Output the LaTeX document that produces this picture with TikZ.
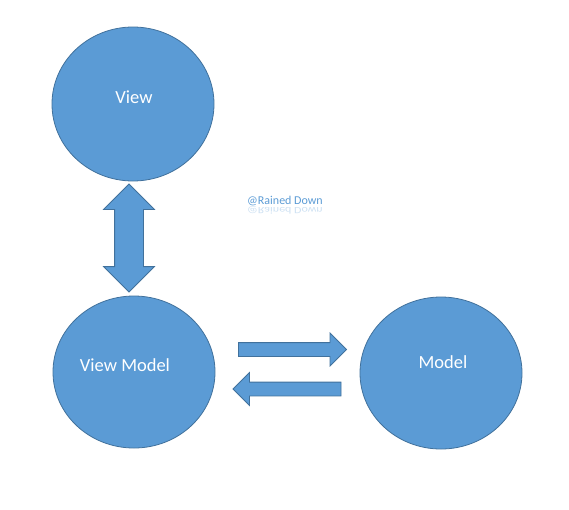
\documentclass[tikz,border=0pt]{standalone}
\usepackage{fontspec}
\setmainfont{Carlito}
\usetikzlibrary{shapes.geometric,shapes.arrows}
\definecolor{officeblue}{HTML}{5B9BD5}
\definecolor{officeline}{HTML}{41719C}
\tikzset{
    blob/.style={ellipse, draw=officeline, fill=officeblue, line width=0.8pt,
        minimum width=162pt, minimum height=152pt, inner sep=0pt},
    blobtext/.style={text=white, font=\fontsize{18.5}{20}\selectfont, inner sep=0pt},
    flatarrow/.style={single arrow, draw=officeline, fill=officeblue, line width=0.8pt,
        minimum height=108pt, inner sep=6.5pt, single arrow head extend=9.5pt},
    bothways/.style={double arrow, draw=officeline, fill=officeblue, line width=0.8pt,
        minimum height=108pt, inner sep=14pt, double arrow head extend=11pt}
}
\begin{document}
\begin{tikzpicture}[x=1pt,y=-1pt]
    \useasboundingbox (0,0) rectangle (569,509);
    \node[blob, minimum height=154pt] (view) at (133,104) {};
    \node[blob] (viewmodel) at (134,372) {};
    \node[blob] (model) at (441,373) {};
    \foreach \nm/\txt/\px/\py in {viewtxt/View/134/97, viewmodeltxt/View Model/125/365, modeltxt/Model/443/362}
    {
        \node[blobtext] (\nm) at (\px,\py) {\txt};
    }
    \node[bothways, shape border rotate=90] (updown) at (129,238) {};
    \node[flatarrow] (tomodel) at (289,349.5) {};
    \node[flatarrow, shape border rotate=180] (toviewmodel) at (290.5,389) {};
    \node[text=officeblue, font=\fontsize{12}{13}\selectfont, inner sep=0pt] (mark) at (285,201) {@Rained Down};
    \node[text=officeblue, opacity=0.3, yscale=-0.8, transform shape, font=\fontsize{12}{13}\selectfont, inner sep=0pt] (markshadow) at (285,210) {@Rained Down};
\end{tikzpicture}
\end{document}
